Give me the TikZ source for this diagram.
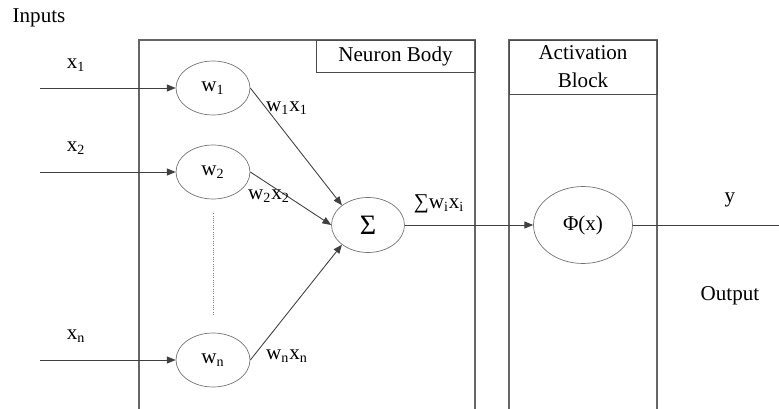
\documentclass[tikz,border=0pt]{standalone}
\usepackage{fontspec}
\setmainfont{Liberation Serif}
\usepackage{tikz}
\usetikzlibrary{positioning, arrows.meta, shapes.geometric, calc}

\begin{document}
\begin{tikzpicture}[
    x=0.02cm, y=-0.02cm,
    font=\fontsize{12}{13}\selectfont,
    weight/.style={
        draw=black!55,
        ellipse,
        minimum width=1.48cm,
        minimum height=1.08cm,
        inner sep=0pt
    },
    labelbox/.style={
        draw=black!70,
        align=center,
        inner sep=0pt
    },
    arrow/.style={-{Triangle[length=5pt,width=4pt]}, black!75, line width=0.5pt},
    wire/.style={black!75, line width=0.5pt}
]
\useasboundingbox (0,0) rectangle (779,409);

% --- blocks ---
\draw[black!60, line width=0.7pt] (139,409) -- (139,40) -- (475,40) -- (475,409);
\draw[black!60, line width=0.7pt] (509,409) -- (509,40) -- (657,40) -- (657,409);
\node[labelbox, minimum width=3.18cm, minimum height=0.64cm] (bodylabel) at (395.5,56) {Neuron Body};
\node[labelbox, minimum width=2.96cm, minimum height=1.08cm] (actlabel) at (583,67) {Activation\\[3pt]Block};

% --- weights ---
\node[weight] (w1) at (213,88) {w\textsubscript{1}};
\node[weight] (w2) at (213,172) {w\textsubscript{2}};
\node[weight] (wn) at (213,360) {w\textsubscript{n}};
\node[weight, minimum width=1.46cm, minimum height=1.1cm, font=\fontsize{16}{16}\selectfont] (sum) at (368,225) {Σ};
\node[weight, minimum width=1.98cm, minimum height=1.54cm] (phi) at (583,225) {Φ(x)};

% --- inputs ---
\node (inputs) at (39,18) {Inputs};
\coordinate (in1) at (40,88);
\coordinate (in2) at (40,172);
\coordinate (inn) at (40,360);
\node (x1) at (76,65) {x\textsubscript{1}};
\node (x2) at (76,148) {x\textsubscript{2}};
\node (xn) at (76,336) {x\textsubscript{n}};

\draw[arrow] (in1) -- (w1);
\draw[arrow] (in2) -- (w2);
\draw[arrow] (inn) -- (wn);

% --- weighted sums ---
\draw[arrow] (w1.east) -- (sum.north west);
\draw[arrow] (w2.east) -- (sum.west);
\draw[arrow] (wn.east) -- (sum.south west);
\draw[black!50, densely dotted, line width=0.3pt] ($(w2.south)+(0,14)$) coordinate (dtop) -- ($(wn.north)+(0,-18)$) coordinate (dbot);

\node (w1x1) at (287,108) {w\textsubscript{1}x\textsubscript{1}};
\node (w2x2) at (269,196) {w\textsubscript{2}x\textsubscript{2}};
\node (wnxn) at (287,356) {w\textsubscript{n}x\textsubscript{n}};

% --- output ---
\draw[arrow] (sum) -- (phi);
\node (sumlabel) at (439,204) {∑w\textsubscript{i}x\textsubscript{i}};
\coordinate (out) at (779,225);
\draw[wire] (phi) -- (out);
\node (ylabel) at (730,200) {y};
\node (output) at (730,296) {Output};

\end{tikzpicture}
\end{document}
